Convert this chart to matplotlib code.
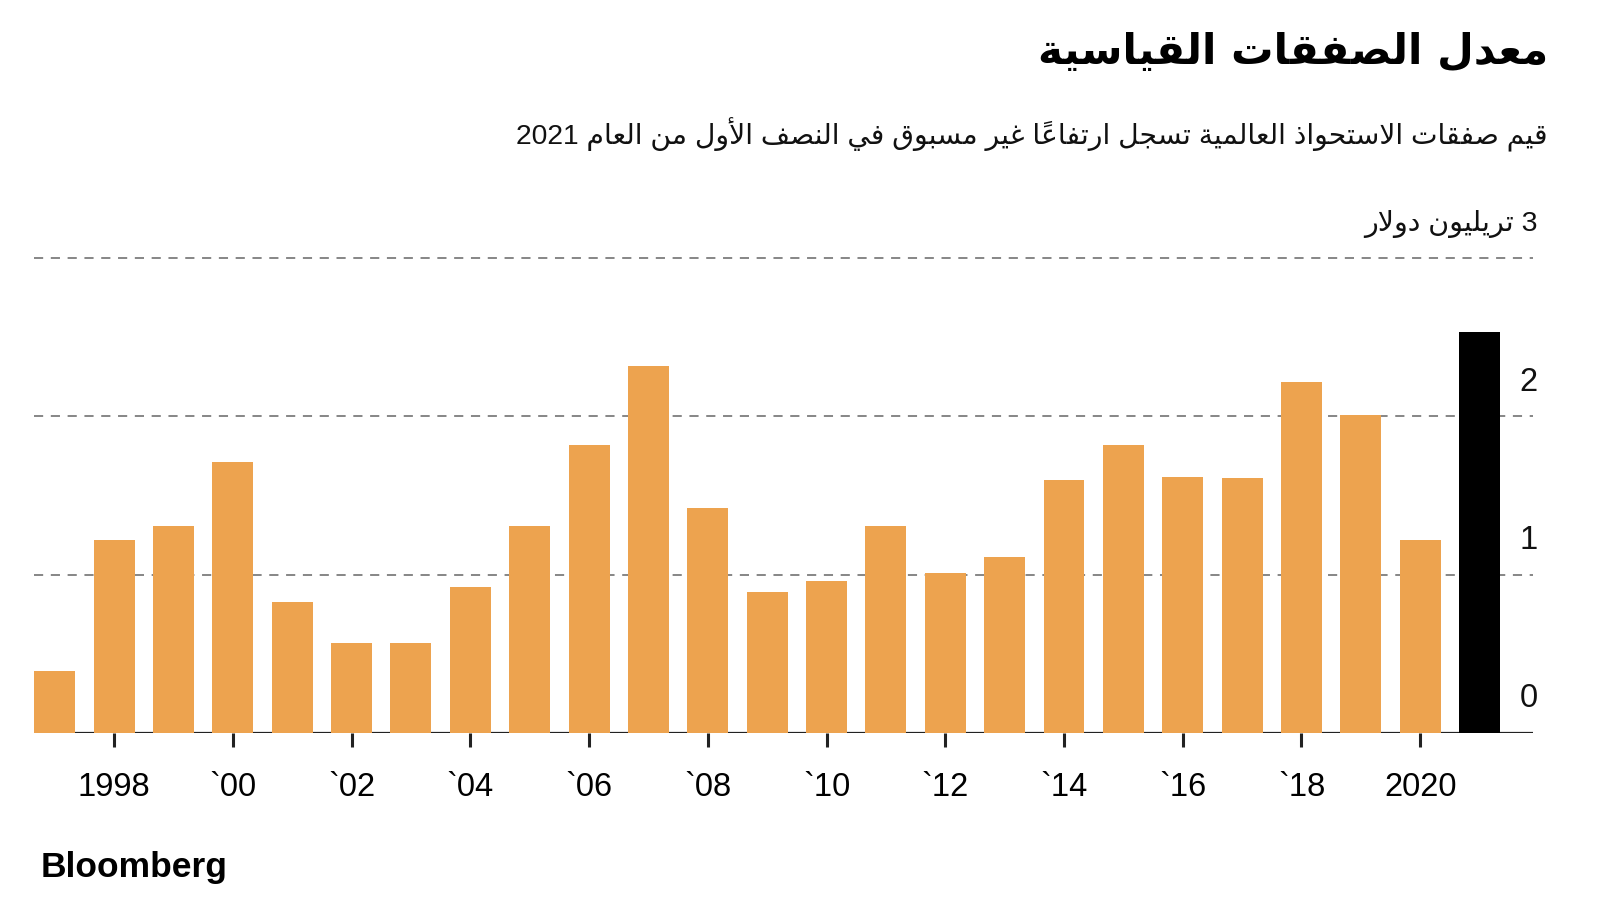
import unicodedata
import matplotlib
matplotlib.use('Agg')
import matplotlib.pyplot as plt

# data (trillion USD)
years  = list(range(1997, 2022))
values = [0.39, 1.22, 1.31, 1.71, 0.83, 0.57, 0.57, 0.92, 1.31, 1.82,
          2.32, 1.42, 0.89, 0.96, 1.31, 1.01, 1.11, 1.60, 1.82, 1.62,
          1.61, 2.22, 2.01, 1.22, 2.53]
colors = ['#EDA34F'] * 24 + ['#000000']

xtick_pos    = list(range(1998, 2021, 2))
xtick_labels = ['1998', '`00', '`02', '`04', '`06', '`08', '`10', '`12',
                '`14', '`16', '`18', '2020']
ytick_pos    = [0, 1, 2, 3]
ytick_labels = ['0', '1', '2', '3 تريليون دولار']

title    = 'معدل الصفقات القياسية'
subtitle = 'قيم صفقات الاستحواذ العالمية تسجل ارتفاعاً غير مسبوق في النصف الأول من العام 2021'
source   = 'Bloomberg'

# --- tiny arabic shaper: matplotlib draws glyphs left to right without joining,
# so map letters to their presentation forms and reverse for display
LETTERS = 'ءآأؤإئابةتثجحخدذرزسشصضطظعغفقكلمنهوىي'
NFORMS  = '122224242444442222444444444444444224'
FORMS = {}
code = 0xFE80
for ch, n in zip(LETTERS, NFORMS):
    FORMS[ch] = [chr(code + k) for k in range(int(n))]
    code += int(n)
for alef, c in zip('آأإا', (0xFEF5, 0xFEF7, 0xFEF9, 0xFEFB)):
    FORMS['ل' + alef] = [chr(c), chr(c + 1)]


def shape_word(word):
    clusters = []
    for ch in word:
        if unicodedata.combining(ch) and clusters:
            clusters[-1][1] += ch
        elif clusters and clusters[-1][0] == 'ل' and not clusters[-1][1] and ch in 'آأإا':
            clusters[-1][0] = 'ل' + ch
        else:
            clusters.append([ch, ''])
    out = []
    for i, (key, marks) in enumerate(clusters):
        if key not in FORMS:
            out.append(key + marks)
            continue
        prev = i > 0 and clusters[i - 1][0] in FORMS and len(FORMS[clusters[i - 1][0]]) == 4
        nxt = (len(FORMS[key]) == 4 and i + 1 < len(clusters)
               and clusters[i + 1][0] in FORMS and len(FORMS[clusters[i + 1][0]]) >= 2)
        idx = (1 if prev else 0) + (2 if nxt else 0)
        forms = FORMS[key]
        out.append(forms[min(idx, len(forms) - 1)] + marks)
    return ''.join(out[::-1])


def rtl(text):
    words = []
    for w in text.split(' '):
        if any(ch in FORMS or unicodedata.combining(ch) for ch in w):
            words.append(shape_word(w))
        else:
            words.append(w)
    return ' '.join(words[::-1])


fig = plt.figure(figsize=(16, 9), dpi=100)
ax = fig.add_axes([34 / 1600, (900 - 733) / 900, (1533 - 34) / 1600, (733 - 258) / 900])

ax.bar(years, values, width=0.69, color=colors, zorder=3)
ax.set_xlim(1996.65, 2021.9)
ax.set_ylim(0, 3)

for v in ytick_pos[1:]:
    ax.axhline(v, color='#666666', lw=1.1, dashes=(6, 5), zorder=1, clip_on=False)
ax.axhline(0, color='#222222', lw=1.6, zorder=2)

for s in ax.spines.values():
    s.set_visible(False)
ax.set_yticks([])
ax.set_xticks(xtick_pos)
ax.set_xticklabels(xtick_labels, family='Liberation Sans', fontsize=23.5)
ax.tick_params(axis='x', length=10, width=2.2, color='#222222', pad=18)

for v, lab in zip(ytick_pos, ytick_labels):
    ax.text(1.003, v + 0.215, rtl(lab), transform=ax.get_yaxis_transform(),
            ha='right', va='center', fontsize=23.5 if v < 3 else 20.5,
            family=['Liberation Sans', 'DejaVu Sans'], color='#111111')

fig.text(0.9675, 1 - 52 / 900, rtl(title), ha='right', va='center',
         fontsize=30.4, fontweight='bold', family='DejaVu Sans')
fig.text(0.9675, 1 - 135 / 900, rtl(subtitle), ha='right', va='center',
         fontsize=20.3, family=['Liberation Sans', 'DejaVu Sans'], color='#111111')
fig.text(41 / 1600, 1 - 867 / 900, source, ha='left', va='center',
         fontsize=25.5, fontweight='bold', family='Liberation Sans')

fig.savefig('out.png', dpi=100, facecolor='white')
